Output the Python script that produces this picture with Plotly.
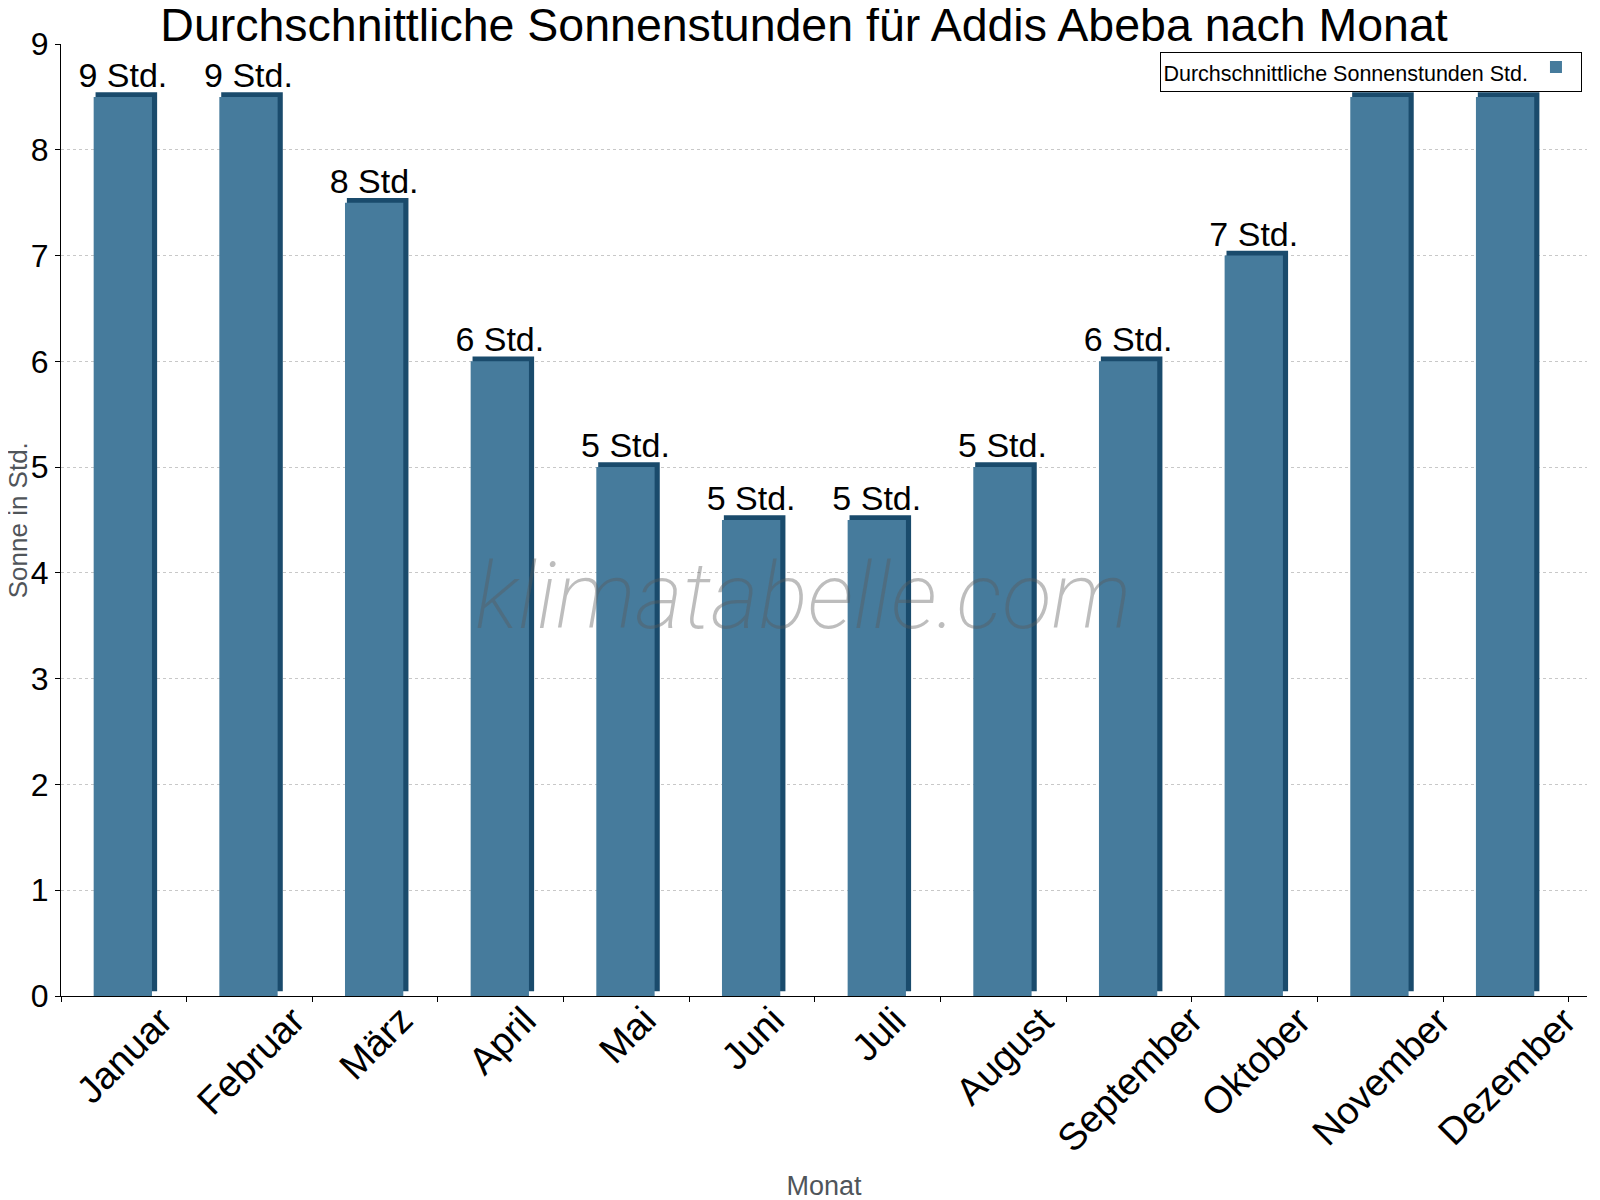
import plotly.graph_objects as go

# Sonnenstunden Addis Abeba
monate = ["Januar", "Februar", "März", "April", "Mai", "Juni",
          "Juli", "August", "September", "Oktober", "November", "Dezember"]
sonnenstunden = [8.5, 8.5, 7.5, 6, 5, 4.5, 4.5, 5, 6, 7, 8.5, 8.5]
beschriftung = ["9 Std.", "9 Std.", "8 Std.", "6 Std.", "5 Std.", "5 Std.",
                "5 Std.", "5 Std.", "6 Std.", "7 Std.", "9 Std.", "9 Std."]
y_ticks = [0, 1, 2, 3, 4, 5, 6, 7, 8, 9]

FRONT = "#467b9c"
SIDE = "#1a4b6c"
SCHRIFT = "Liberation Sans, Arial, sans-serif"

fig = go.Figure()

# dunkle "3D"-Kante hinter dem Balken
fig.add_trace(go.Bar(
    x=monate, y=sonnenstunden, base=0.045,
    offset=-0.225, width=0.49,
    marker=dict(color=SIDE, line=dict(width=0)),
    showlegend=False, hoverinfo="skip",
))

fig.add_trace(go.Bar(
    x=monate, y=sonnenstunden, name="",
    offset=-0.24, width=0.464,
    marker=dict(color=FRONT, line=dict(color=SIDE, width=0)),
    text=beschriftung, textposition="outside", constraintext="none",
    textfont=dict(size=34, color="black", family=SCHRIFT),
    cliponaxis=False,
))

# schräge Monatsbeschriftung
for m in monate:
    fig.add_annotation(
        x=m, y=0, xref="x", yref="paper", text=m, textangle=-45,
        xanchor="center", yanchor="top", xshift=1, yshift=0,
        showarrow=False, font=dict(size=38, color="black", family=SCHRIFT),
    )

# y-Achsentitel
fig.add_annotation(
    x=-0.028, y=0.5, xref="paper", yref="paper", text="Sonne in Std.",
    textangle=-90, showarrow=False, xanchor="center", yanchor="middle",
    font=dict(size=26, color="#50555a", family=SCHRIFT),
)

# Wasserzeichen
fig.add_annotation(
    x=0.486, y=0.42, xref="paper", yref="paper", text="klimatabelle.com",
    showarrow=False, xanchor="center", yanchor="middle",
    font=dict(size=92, color="rgba(90,90,90,0.4)", family="Roboto",
              style="italic", weight=200),
)

fig.update_layout(
    width=1600, height=1200,
    barmode="overlay",
    plot_bgcolor="white", paper_bgcolor="white",
    margin=dict(t=36, b=212, l=53, r=21, autoexpand=False),
    font=dict(family=SCHRIFT, color="black"),
    title=dict(text="Durchschnittliche Sonnenstunden für Addis Abeba nach Monat",
               x=0.4975, xanchor="center", y=0.986, yanchor="middle",
               font=dict(size=46.5, color="black", family=SCHRIFT)),
    legend=dict(
        x=0.997, xanchor="right", y=0.992, yanchor="top",
        bgcolor="white", bordercolor="black", borderwidth=1,
        title=dict(text="Durchschnittliche Sonnenstunden Std.", side="left",
                   font=dict(size=21.5, color="black", family=SCHRIFT)),
        font=dict(size=1, family=SCHRIFT),
        itemwidth=30,
    ),
    showlegend=True,
)

fig.update_xaxes(
    showticklabels=False, showline=True, linecolor="black", linewidth=1,
    ticks="outside", tickson="boundaries", ticklen=5, tickcolor="black",
    showgrid=False, automargin=False,
    title=dict(text="Monat", standoff=180,
               font=dict(size=27, color="#50555a", family=SCHRIFT)),
)
fig.update_yaxes(
    range=[0, 9], tickvals=y_ticks, showline=True, linecolor="black", linewidth=1,
    ticks="outside", ticklen=5, tickcolor="black", zeroline=False,
    tickfont=dict(size=32, color="black", family=SCHRIFT),
    showgrid=True, gridcolor="#c8c8c8", griddash="dot", gridwidth=1,
    automargin=False,
)

fig.write_html("out.html")
